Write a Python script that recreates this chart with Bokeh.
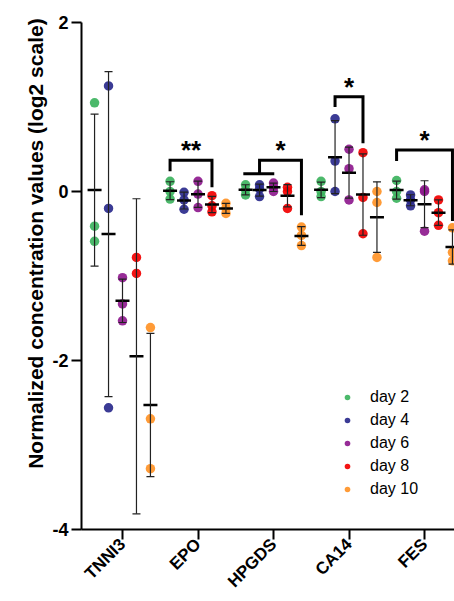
import numpy as np
from bokeh.plotting import figure
from bokeh.models import (Range1d, FixedTicker, ColumnDataSource, Whisker, TeeHead,
                          Legend, LegendItem, Title)
from bokeh.core.properties import value
from bokeh.embed import file_html
from bokeh.resources import INLINE

# ---------------- data ----------------
genes = ["TNNI3", "EPO", "HPGDS", "CA14", "FES"]
day_labels = ["day 2", "day 4", "day 6", "day 8", "day 10"]
day_colors = ["#3DB35E", "#2A2A8C", "#8E1A8E", "#F20000", "#FF9226"]

# three replicates per gene (log2 normalized), per day
day2 = [[1.05, -0.41, -0.59], [0.12, 0.00, -0.09], [0.08, 0.02, -0.04], [0.12, 0.00, -0.06], [0.13, 0.00, -0.08]]
day4 = [[1.25, -0.20, -2.56], [-0.01, -0.10, -0.21], [0.08, 0.03, -0.06], [0.86, 0.36, 0.00], [-0.04, -0.10, -0.17]]
day6 = [[-1.02, -1.33, -1.53], [0.12, -0.03, -0.19], [0.10, 0.05, 0.00], [0.50, 0.27, -0.10], [0.02, 0.00, -0.47]]
day8 = [[-0.78, -0.97, -4.10], [-0.05, -0.17, -0.24], [0.05, 0.00, -0.20], [0.46, -0.07, -0.50], [-0.10, -0.25, -0.40]]
day10 = [[-1.61, -2.69, -3.28], [-0.14, -0.20, -0.26], [-0.42, -0.52, -0.64], [0.00, -0.13, -0.78], [-0.43, -0.72, -0.82]]
all_days = [day2, day4, day6, day8, day10]

# significance brackets: gene, left day, right day, bar level, left leg end, right leg end, label
sig_gene = ["EPO", "HPGDS", "CA14", "FES"]
sig_left_day = [0, 1, 1, 0]
sig_right_day = [3, 4, 3, 4]
sig_bar = [0.37, 0.37, 1.12, 0.49]
sig_left_end = [0.24, 0.21, 1.00, 0.36]
sig_right_end = [0.05, -0.28, 0.57, -0.35]
sig_text = ["**", "*", "*", "*"]
# HPGDS: days 2-6 pooled by a sub-bar
pool_gene = "HPGDS"
pool_days = [0, 2]
pool_level = 0.21

y_ticks = [-4, -2, 0, 2]
y_tick_labels = ["-4", "-2", "0", "2"]
y_label = "Normalized concentration values  (log2 scale)"

# ---------------- layout helpers ----------------
gene_pos = {g: i + 1 for i, g in enumerate(genes)}
step = 0.185
offsets = (np.arange(len(day_labels)) - 2) * step
X0, X1, Y0, Y1 = 0.457, 5.397, -4, 2

FONT = "Liberation Sans"

p = figure(width=454, height=601, x_range=Range1d(X0, X1), y_range=Range1d(Y0, Y1),
           output_backend="svg", toolbar_location=None,
           min_border_left=81, min_border_right=0, min_border_top=22, min_border_bottom=72)
p.grid.visible = False
p.outline_line_color = None
p.background_fill_color = "white"

renderers = []
for d, (vals, col) in enumerate(zip(all_days, day_colors)):
    xs, ys = [], []
    bx, mean, up, lo = [], [], [], []
    for gi, g in enumerate(genes):
        x = gene_pos[g] + offsets[d]
        arr = np.array(vals[gi])
        for v in arr:
            xs.append(x)
            ys.append(v)
        m = arr.mean()
        s = arr.std(ddof=1)
        bx.append(x); mean.append(m); up.append(m + s); lo.append(m - s)
    r = p.scatter(xs, ys, size=9.5, fill_color=col, line_color=None, fill_alpha=0.92)
    renderers.append(r)
    src = ColumnDataSource(dict(x=bx, mean=mean, upper=up, lower=lo))
    w = Whisker(base="x", upper="upper", lower="lower", source=src, dimension="height",
                line_color="#222222", line_width=1.2, level="annotation",
                upper_head=TeeHead(size=8, line_color="#222222", line_width=1.2),
                lower_head=TeeHead(size=8, line_color="#222222", line_width=1.2))
    p.add_layout(w)
    p.scatter("x", "mean", source=src, marker="dash", size=14, line_width=2.5, line_color="black")

# brackets
bxs, bys, tx, ty = [], [], [], []
for g, ld, rd, bar, le, re, t in zip(sig_gene, sig_left_day, sig_right_day, sig_bar,
                                     sig_left_end, sig_right_end, sig_text):
    xl = gene_pos[g] + offsets[ld]
    xr = gene_pos[g] + offsets[rd]
    bxs.append([xl, xl, xr, xr])
    bys.append([le, bar, bar, re])
    tx.append((xl + xr) / 2)
    ty.append(bar)
bxs.append([gene_pos[pool_gene] + offsets[pool_days[0]] - 0.03, gene_pos[pool_gene] + offsets[pool_days[1]] + 0.01])
bys.append([pool_level, pool_level])
p.multi_line(bxs, bys, line_color="black", line_width=3, line_join="miter")
p.text(x=tx, y=ty, text=sig_text, text_font=value(FONT), text_font_style="bold",
       text_font_size="26px", text_align="center", text_baseline="alphabetic",
       y_offset=-10, text_color="black")

# axes
for ax in (p.xaxis[0], p.yaxis[0]):
    ax.axis_line_width = 2
    ax.axis_line_color = "black"
    ax.major_tick_line_width = 2
    ax.major_tick_line_color = "black"
    ax.major_tick_out = 10
    ax.major_tick_in = 0
    ax.minor_tick_line_color = None
    ax.major_label_text_font = FONT
    ax.major_label_text_font_style = "bold"
    ax.major_label_text_color = "black"

p.xaxis.ticker = FixedTicker(ticks=[gene_pos[g] for g in genes])
p.xaxis.major_label_overrides = {gene_pos[g]: g for g in genes}
p.xaxis.major_label_orientation = np.pi / 4
p.xaxis.major_label_text_font_size = "17px"
p.xaxis.major_label_standoff = 2

p.yaxis.ticker = FixedTicker(ticks=y_ticks)
p.yaxis.major_label_overrides = dict(zip(y_ticks, y_tick_labels))
p.yaxis.major_label_text_font_size = "18px"
p.yaxis.major_label_standoff = 3

p.add_layout(Title(text=y_label, align="right", offset=-10, text_font=FONT,
                   text_font_style="bold", text_font_size="21px", text_color="black",
                   standoff=6), "left")

legend = Legend(items=[LegendItem(label=lab, renderers=[r]) for lab, r in zip(day_labels, renderers)],
                location=(259, 30), padding=0, margin=0, spacing=3, glyph_width=14,
                glyph_height=20, label_standoff=16, label_text_font_size="16px",
                label_text_font=FONT, label_text_color="black",
                border_line_color=None, background_fill_alpha=0)
p.add_layout(legend)

open("out.html", "w").write(file_html(p, INLINE))
